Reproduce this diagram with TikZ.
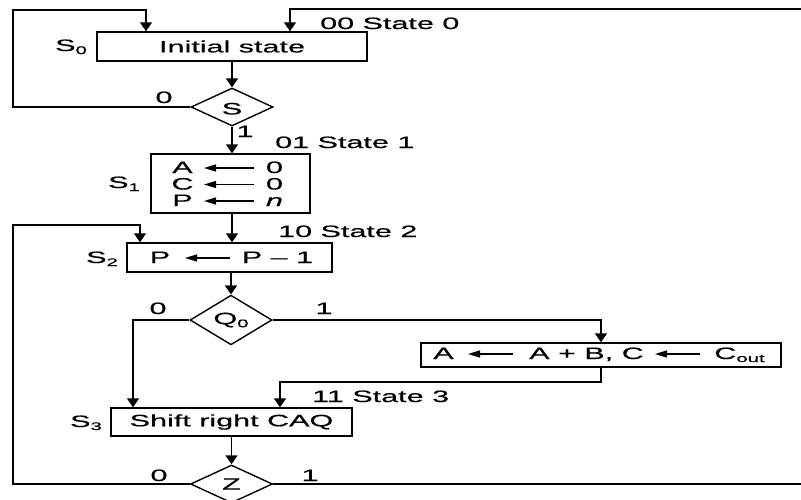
\documentclass[tikz,border=0pt]{standalone}
\usepackage{fontspec}
\setmainfont{Liberation Sans}[FakeStretch=1.85, FakeBold=0.5]
\usetikzlibrary{arrows.meta,shapes.geometric}
\newcommand{\lowidx}[1]{\raisebox{-3pt}{\fontsize{11}{11}\selectfont #1}}
\tikzset{
  conn/.style={line width=1.4pt},
  arr/.style={conn,-{Triangle[length=9pt,width=12pt]}},
  tarr/.style={line width=1.3pt,-{Triangle[length=12pt,width=7pt]}},
  box/.style={draw,line width=1.4pt,rectangle,inner sep=0pt},
  dia/.style={draw,line width=1.4pt,diamond,inner sep=0pt,minimum width=82pt,minimum height=38pt},
  txt/.style={inner sep=0pt,anchor=base},
  lbl/.style={inner sep=0pt,anchor=base west},
}
\begin{document}
\begin{tikzpicture}[x=1pt,y=-1pt,every node/.style={font=\fontsize{16.5}{19}\selectfont}]
\useasboundingbox (0,0) rectangle (801,499);
\fill[white] (0,0) rectangle (801,499);

% boxes and decisions
\node[box,minimum width=270pt,minimum height=29pt] (b0) at (232,46.5) {Initial state};
\node[dia,text height=15pt] (d0) at (232,107) {S};
\node[box,minimum width=159pt,minimum height=59pt] (b1) at (230.5,183.5) {};
\node[box,minimum width=205pt,minimum height=29pt] (b2) at (229.5,257.5) {};
\node[dia] (d1) at (231,320) {Q\lowidx{0}};
\node[box,minimum width=360pt,minimum height=24pt] (b3) at (601,355) {};
\node[box,minimum width=241pt,minimum height=28pt] (b4) at (231.5,422) {Shift right CAQ};
\node[dia] (d2) at (231.5,484) {Z};

% box contents
\node[txt] (r1a) at (182.5,173) {A};
\node[txt] (r1b) at (274.5,173) {0};
\node[txt] (r2a) at (182.5,189.5) {C};
\node[txt] (r2b) at (274.5,189.5) {0};
\node[txt] (r3a) at (182.5,206) {P};
\node[txt] (r3b) at (274.5,206) {\textit{n}};
\coordinate (t1) at (254,168); \coordinate (h1) at (204,168);
\coordinate (t2) at (254,184.5); \coordinate (h2) at (204,184.5);
\coordinate (t3) at (254,201); \coordinate (h3) at (204,201);
\draw[tarr] (t1) -- (h1);
\draw[tarr] (t2) -- (h2);
\draw[tarr] (t3) -- (h3);

\node[txt] (p1) at (160,263) {P};
\node[txt] (p2) at (277.5,263) {P – 1};
\coordinate (t4) at (230,258); \coordinate (h4) at (185,258);
\draw[tarr] (t4) -- (h4);

\node[txt] (q1) at (443.5,359) {A};
\node[txt] (q2) at (586.5,359) {A + B, C};
\node[txt] (q3) at (739.5,359) {C\lowidx{out}};
\coordinate (t5) at (513,354); \coordinate (h5) at (468,354);
\coordinate (t6) at (700,354); \coordinate (h6) at (655,354);
\draw[tarr] (t5) -- (h5);
\draw[tarr] (t6) -- (h6);

% state labels
\node[lbl] (s0) at (55,51) {S\lowidx{0}};
\node[lbl] (s1) at (108,188) {S\lowidx{1}};
\node[lbl] (s2) at (86,263) {S\lowidx{2}};
\node[lbl] (s3) at (70,427) {S\lowidx{3}};
\node[lbl] (st0) at (320,29) {00 State 0};
\node[lbl] (st1) at (275,148) {01 State 1};
\node[lbl] (st2) at (278,237) {10 State 2};
\node[lbl] (st3) at (312,402) {11 State 3};

% branch labels
\node[txt] (e0) at (164,103) {0};
\node[txt] (e1) at (245,137) {1};
\node[txt] (e2) at (158,314) {0};
\node[txt] (e3) at (324,314) {1};
\node[txt] (e4) at (159,481) {0};
\node[txt] (e5) at (310,481) {1};

% connectors
\draw[arr] (b0.south) -- (d0.north);
\draw[arr] (d0.south) -- (d0.south |- b1.north);
\draw[arr] (b1.south -| d0.south) -- (d0.south |- b2.north);
\draw[arr] (b2.south -| d1.north) -- (d1.north);
\draw[arr] (b4.south -| d2.north) -- (d2.north);

\coordinate (k1) at (13,10); \coordinate (k2) at (146,10);
\draw[arr] (d0.west) -| (k1) -- (k2) -- (k2 |- b0.north);
\coordinate (k3) at (801,9); \coordinate (k4) at (290,9);
\draw[arr] (k3) -- (k4) -- (k4 |- b0.north);
\coordinate (k5) at (13,225); \coordinate (k6) at (140,225);
\draw[arr] (d2.west) -| (k5) -- (k6) -- (k6 |- b2.north);
\coordinate (k7) at (133,320);
\draw[arr] (d1.west) -- (k7) -- (k7 |- b4.north);
\coordinate (k8) at (601,320);
\draw[arr] (d1.east) -- (k8) -- (k8 |- b3.north);
\coordinate (k9) at (601,382); \coordinate (k10) at (280,382);
\draw[arr] (b3.south -| k9) -- (k9) -- (k10) -- (k10 |- b4.north);
\coordinate (k11) at (801,484);
\draw[conn] (d2.east) -- (k11);
\end{tikzpicture}
\end{document}
